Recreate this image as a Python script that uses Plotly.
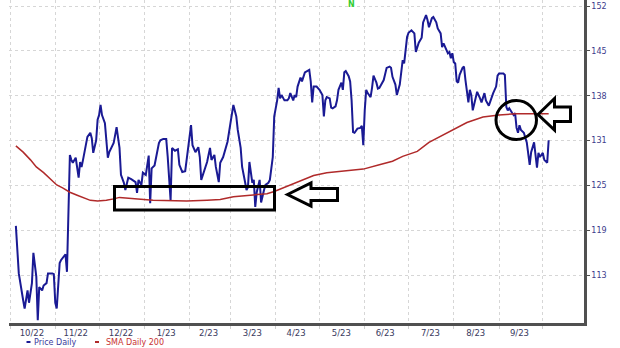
import plotly.graph_objects as go

# ---------------- data ----------------
price_dates = [
    "2022-10-05","2022-10-07","2022-10-10","2022-10-11","2022-10-13","2022-10-14","2022-10-16","2022-10-17",
    "2022-10-19","2022-10-20","2022-10-21","2022-10-23","2022-10-24","2022-10-26","2022-10-27","2022-10-30",
    "2022-10-31","2022-11-01","2022-11-02","2022-11-04","2022-11-05","2022-11-08","2022-11-09","2022-11-10",
    "2022-11-11","2022-11-12","2022-11-13","2022-11-15","2022-11-16","2022-11-17","2022-11-18","2022-11-19",
    "2022-11-20","2022-11-21","2022-11-23","2022-11-25","2022-11-26","2022-11-27","2022-11-29","2022-11-30",
    "2022-12-01","2022-12-02","2022-12-03","2022-12-05","2022-12-07","2022-12-08","2022-12-11","2022-12-13",
    "2022-12-15","2022-12-16","2022-12-18","2022-12-19","2022-12-21","2022-12-23","2022-12-26","2022-12-27",
    "2022-12-28","2022-12-30","2022-12-31","2023-01-02","2023-01-04","2023-01-05","2023-01-06","2023-01-08",
    "2023-01-11","2023-01-12","2023-01-14","2023-01-16","2023-01-17","2023-01-19","2023-01-20","2023-01-22",
    "2023-01-24","2023-01-25","2023-01-27","2023-01-29","2023-01-31","2023-02-02","2023-02-03","2023-02-05",
    "2023-02-07","2023-02-08","2023-02-09","2023-02-11","2023-02-13","2023-02-15","2023-02-16","2023-02-18",
    "2023-02-19","2023-02-21","2023-02-22","2023-02-24","2023-02-27","2023-03-01","2023-03-03","2023-03-05",
    "2023-03-06","2023-03-08","2023-03-09","2023-03-11","2023-03-12","2023-03-13","2023-03-14","2023-03-16",
    "2023-03-17","2023-03-18","2023-03-19","2023-03-21","2023-03-22","2023-03-24","2023-03-25","2023-03-27",
    "2023-03-28","2023-03-30","2023-03-31","2023-04-02","2023-04-03","2023-04-04","2023-04-05","2023-04-07",
    "2023-04-09","2023-04-10","2023-04-11","2023-04-13","2023-04-14","2023-04-15","2023-04-16","2023-04-18",
    "2023-04-19","2023-04-21","2023-04-23","2023-04-24","2023-04-25","2023-04-26","2023-04-27","2023-04-29",
    "2023-05-01","2023-05-03","2023-05-04","2023-05-05","2023-05-06","2023-05-08","2023-05-09","2023-05-10",
    "2023-05-12","2023-05-13","2023-05-14","2023-05-16","2023-05-17","2023-05-18","2023-05-19","2023-05-21",
    "2023-05-22","2023-05-23","2023-05-24","2023-05-25","2023-05-27","2023-05-29","2023-05-30","2023-05-31",
    "2023-06-01","2023-06-02","2023-06-03","2023-06-05","2023-06-06","2023-06-07","2023-06-09","2023-06-10",
    "2023-06-11","2023-06-13","2023-06-14","2023-06-16","2023-06-18","2023-06-19","2023-06-20","2023-06-22",
    "2023-06-23","2023-06-25","2023-06-26","2023-06-27","2023-06-28","2023-06-30","2023-07-01","2023-07-03",
    "2023-07-05","2023-07-06","2023-07-08","2023-07-10","2023-07-11","2023-07-13","2023-07-14","2023-07-15",
    "2023-07-17","2023-07-18","2023-07-20","2023-07-21","2023-07-23","2023-07-24","2023-07-25","2023-07-27",
    "2023-07-28","2023-07-29","2023-07-30","2023-07-31","2023-08-01","2023-08-02","2023-08-03","2023-08-04",
    "2023-08-05","2023-08-07","2023-08-08","2023-08-09","2023-08-11","2023-08-12","2023-08-13","2023-08-14",
    "2023-08-16","2023-08-17","2023-08-19","2023-08-20","2023-08-22","2023-08-23","2023-08-25","2023-08-27",
    "2023-08-28","2023-08-30","2023-08-31","2023-09-01","2023-09-04","2023-09-05","2023-09-06","2023-09-07",
    "2023-09-08","2023-09-10","2023-09-11","2023-09-12","2023-09-13","2023-09-14","2023-09-15","2023-09-16",
    "2023-09-18","2023-09-20","2023-09-22","2023-09-23","2023-09-25","2023-09-27","2023-09-28","2023-09-29",
    "2023-10-01","2023-10-02","2023-10-04","2023-10-05",
]
price_values = [
    119.3,113.2,109.9,108.9,111.1,109.6,112.0,115.8,
    112.8,107.5,111.5,111.1,111.7,112.0,113.2,113.2,
    113.1,109.6,108.9,114.5,114.9,115.6,113.4,119.7,
    129.0,128.3,127.9,128.6,127.3,125.8,128.0,127.3,
    128.3,129.3,131.6,132.2,131.4,129.3,131.1,134.1,
    134.8,136.3,134.8,133.6,128.6,129.4,130.7,133.0,
    130.0,126.2,125.1,124.1,125.8,125.6,125.2,123.7,
    125.5,124.8,126.5,126.2,128.9,122.3,127.1,127.5,
    130.7,131.1,131.3,131.3,128.8,122.7,130.0,129.6,
    129.8,127.6,126.6,126.7,130.3,133.3,130.4,129.4,
    130.1,128.7,125.5,126.9,128.0,130.0,128.3,129.0,
    127.3,125.2,127.9,128.7,130.9,133.6,136.3,134.6,
    132.6,130.0,127.3,125.2,124.1,124.5,128.0,125.1,
    125.5,121.8,123.8,125.5,122.4,124.1,124.8,125.1,
    125.5,128.7,134.6,137.0,138.9,137.3,137.8,137.0,
    137.0,137.3,138.1,137.0,137.8,137.5,139.1,140.5,
    139.9,141.3,141.5,141.7,139.9,136.7,139.1,139.1,
    138.6,137.8,134.6,137.0,137.5,137.3,135.9,135.8,
    136.1,137.0,138.6,139.7,138.6,141.3,141.5,140.7,
    139.9,137.0,132.3,132.2,132.8,132.9,133.2,130.4,
    135.5,138.6,138.1,137.5,138.9,140.8,139.7,138.8,
    138.9,139.7,140.1,142.0,142.2,142.0,140.6,139.4,
    137.8,139.4,141.5,143.2,142.7,146.9,147.6,148.0,
    147.5,144.5,146.0,146.8,149.3,150.5,149.7,148.5,
    150.0,150.2,149.3,148.3,147.5,145.3,145.9,144.8,
    144.3,144.5,143.5,144.3,142.9,142.7,139.9,139.7,
    140.9,142.0,142.2,140.1,136.7,138.6,137.8,135.5,
    137.5,138.3,137.3,136.7,138.1,137.0,136.2,137.5,
    138.1,139.1,140.8,141.1,141.1,140.9,136.0,135.5,
    135.8,135.1,134.8,135.1,132.9,132.2,133.3,132.6,
    132.2,130.8,127.6,129.4,130.8,127.2,129.3,128.7,
    129.3,128.3,127.9,131.1,
]

sma_dates = [
    "2022-10-05","2022-10-10","2022-10-15","2022-10-19","2022-10-24","2022-10-28","2022-11-02","2022-11-06",
    "2022-11-11","2022-11-16","2022-11-20","2022-11-25","2022-11-30","2022-12-06","2022-12-11","2022-12-15",
    "2023-01-07","2023-01-30","2023-02-13","2023-02-22","2023-03-03","2023-03-17","2023-03-26","2023-03-31",
    "2023-04-09","2023-04-18","2023-04-27","2023-05-06","2023-05-15","2023-05-31","2023-06-11","2023-06-20",
    "2023-06-27","2023-07-02","2023-07-07","2023-07-15","2023-07-29","2023-08-10","2023-08-21","2023-09-01",
    "2023-09-13","2023-09-24","2023-10-05",
]
sma_values = [
    130.3,129.4,128.3,127.3,126.5,125.8,124.8,124.4,
    123.8,123.4,123.1,122.7,122.6,122.7,122.9,123.1,
    122.7,122.6,122.7,122.8,123.2,123.4,123.6,123.9,
    124.6,125.3,126.1,126.5,126.7,127.0,127.6,128.1,
    128.8,129.2,129.5,130.8,132.4,133.7,134.5,134.8,
    135.0,135.0,135.0,
]

month_starts = [
    "2022-10-01","2022-11-01","2022-12-01","2023-01-01","2023-02-01","2023-03-01","2023-04-01",
    "2023-05-01","2023-06-01","2023-07-01","2023-08-01","2023-09-01","2023-10-01",
]
month_label_dates = [
    "2022-10-16","2022-11-15","2022-12-16","2023-01-16","2023-02-14","2023-03-16",
    "2023-04-15","2023-05-16","2023-06-15","2023-07-16","2023-08-16","2023-09-15",
]
month_labels = ["10/22","11/22","12/22","1/23","2/23","3/23","4/23","5/23","6/23","7/23","8/23","9/23"]

y_tick_values = [113.0, 118.73, 124.74, 131.06, 137.70, 144.68, 152.0]
y_tick_labels = ["113", "119", "125", "131", "138", "145", "152"]

news_date = "2023-05-23"

# ---------------- layout helpers (pixel -> paper) ----------------
W, H = 620, 348
PL, PR, PT, PB = 9, 584, 0, 323


def fx(px):
    return (px - PL) / (PR - PL)


def fy(py):
    return (PB - py) / (PB - PT)


def path(points):
    s = "M " + " L ".join(f"{fx(x):.5f},{fy(y):.5f}" for x, y in points)
    return s + " Z"


PRICE_COLOR = "#1a1a94"
SMA_COLOR = "#b02a2a"
GRID = "#d6d6d6"
AXIS = "#505050"

fig = go.Figure()
fig.add_trace(go.Scatter(x=price_dates, y=price_values, mode="lines", name="Price Daily",
                         line=dict(color=PRICE_COLOR, width=2), showlegend=False))
fig.add_trace(go.Scatter(x=sma_dates, y=sma_values, mode="lines", name="SMA Daily 200",
                         line=dict(color=SMA_COLOR, width=1.5), showlegend=False))

shapes = []
# highlight box
shapes.append(dict(type="rect", xref="paper", yref="paper",
                   x0=fx(114.5), x1=fx(274.5), y0=fy(210), y1=fy(186.5),
                   line=dict(color="black", width=3)))
# left arrow near box
shapes.append(dict(type="path", xref="paper", yref="paper",
                   path=path([(287.5, 194.5), (311, 183), (311, 188.5), (337.5, 188.5),
                              (337.5, 200.5), (311, 200.5), (311, 206)]),
                   line=dict(color="black", width=3)))
# circle
shapes.append(dict(type="circle", xref="paper", yref="paper",
                   x0=fx(496), x1=fx(536.5), y0=fy(139.5), y1=fy(100.5),
                   line=dict(color="black", width=3)))
# right arrow near circle
shapes.append(dict(type="path", xref="paper", yref="paper",
                   path=path([(538, 114.5), (554.5, 98.5), (554.5, 107), (570.5, 107),
                              (570.5, 121.5), (554.5, 121.5), (554.5, 130)]),
                   line=dict(color="black", width=3)))
# legend dashes
shapes.append(dict(type="line", xref="paper", yref="paper",
                   x0=fx(26.5), x1=fx(30.5), y0=fy(342), y1=fy(342),
                   line=dict(color=PRICE_COLOR, width=2)))
shapes.append(dict(type="line", xref="paper", yref="paper",
                   x0=fx(95), x1=fx(99), y0=fy(342), y1=fy(342),
                   line=dict(color=SMA_COLOR, width=2)))

annotations = [
    dict(text="Price Daily", xref="paper", yref="paper", x=fx(32), y=fy(342),
         xanchor="left", yanchor="middle", showarrow=False,
         font=dict(family="DejaVu Sans", size=8, color="#3a3a9c")),
    dict(text="SMA Daily 200", xref="paper", yref="paper", x=fx(104), y=fy(342),
         xanchor="left", yanchor="middle", showarrow=False,
         font=dict(family="DejaVu Sans", size=8, color="#c83232")),
    dict(text="<b>N</b>", xref="x", yref="paper", x=news_date, y=fy(4.5),
         xanchor="center", yanchor="middle", showarrow=False,
         font=dict(family="DejaVu Sans", size=8, color="#33cc33")),
]

fig.update_layout(
    width=W, height=H,
    margin=dict(l=PL, r=W - PR, t=PT, b=H - PB, pad=0),
    paper_bgcolor="white", plot_bgcolor="white",
    showlegend=False,
    shapes=shapes, annotations=annotations,
    xaxis=dict(
        type="date",
        range=["2022-09-30 07:00", "2023-10-29 05:00"],
        tickmode="array", tickvals=month_label_dates, ticktext=month_labels,
        showgrid=False, ticks="", showline=True, linecolor=AXIS, linewidth=2.5,
        tickfont=dict(family="DejaVu Sans", size=8.5, color="#3a3a5e"),
        zeroline=False,
        minor=dict(tickmode="array", tickvals=month_starts, showgrid=True,
                   gridcolor=GRID, griddash="dot", gridwidth=1,
                   ticks="outside", ticklen=3, tickcolor="#cfcfcf"),
    ),
    yaxis=dict(
        type="log", side="right",
        range=[2.03011, 2.18478],
        tickmode="array", tickvals=y_tick_values, ticktext=y_tick_labels,
        showgrid=True, gridcolor=GRID, griddash="dot", gridwidth=1,
        showline=True, linecolor=AXIS, linewidth=2.5,
        ticks="outside", ticklen=3, tickcolor=AXIS,
        tickfont=dict(family="DejaVu Sans", size=8, color="#3c3c8c"),
        zeroline=False,
    ),
)

fig.write_html("out.html")
